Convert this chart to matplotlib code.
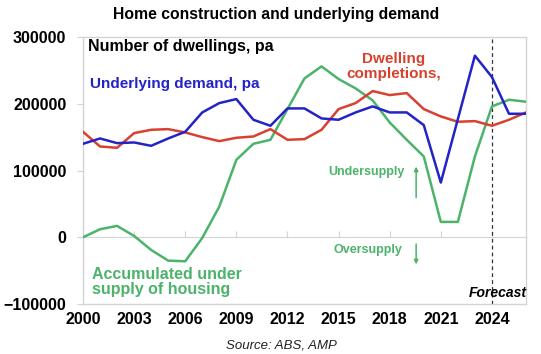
import numpy as np
import matplotlib
matplotlib.use("Agg")
import matplotlib.pyplot as plt

# ── data ──────────────────────────────────────────────────────
years = list(range(2000, 2027))

underlying_demand = [140000, 148000, 141000, 142000, 137000, 148000, 158000, 187000, 201000,
                     207000, 176000, 167000, 193000, 193000, 178000, 176000, 187000, 196000,
                     187000, 187000, 168000, 82000, 177000, 272000, 240000, 185000, 185000]

completions = [158000, 136000, 134000, 156000, 161000, 162000, 157000, 150000, 144000,
               149000, 151000, 162000, 146000, 147000, 161000, 192000, 201000, 219000,
               213000, 216000, 192000, 181000, 173000, 174000, 167000, 176000, 187000]

accum_undersupply = [0, 12000, 17000, 2000, -19000, -35000, -36000, -1000, 46000,
                     116000, 140000, 146000, 192000, 238000, 256000, 237000, 223000, 205000,
                     172000, 146000, 121000, 23000, 23000, 121000, 196000, 206000, 203000]

forecast_year = 2024
xticks = list(range(2000, 2025, 3))
yticks = [-100000, 0, 100000, 200000, 300000]

BLUE = "#2323C8"
RED = "#D8412F"
GREEN = "#4CB36A"
GRID = "#D4D4D4"

plt.rcParams["font.family"] = ["Liberation Sans", "DejaVu Sans"]

fig = plt.figure(figsize=(5.41, 3.54), dpi=100)
ax = fig.add_axes([0.1534, 0.1412, 0.8189, 0.7543])

ax.plot(years, accum_undersupply, color=GREEN, lw=1.8, zorder=3)
ax.plot(years, completions, color=RED, lw=1.8, zorder=4)
ax.plot(years, underlying_demand, color=BLUE, lw=1.8, zorder=5)

ax.axvline(forecast_year, color="#333333", lw=0.9, ls=(0, (3, 2.5)), zorder=2)

ax.set_xlim(2000, 2026)
ax.set_ylim(-100000, 300000)
ax.set_xticks(xticks)
ax.set_yticks(yticks)
ax.tick_params(axis="x", length=0, pad=6, labelsize=11.5)
ax.tick_params(axis="y", length=4, color=GRID, pad=8, labelsize=11.5)
for lab in ax.get_xticklabels() + ax.get_yticklabels():
    lab.set_fontweight("bold")
for sp in ax.spines.values():
    sp.set_color(GRID)
    sp.set_linewidth(1.0)

# zero line with small upward ticks
zero_frac = (0 - yticks[0]) / (yticks[-1] - yticks[0])
sec = ax.secondary_xaxis(zero_frac)
sec.set_xticks(xticks)
sec.tick_params(direction="in", length=4, color=GRID, labelbottom=False)
sec.spines["bottom"].set_color(GRID)

# ── text ────────────────────────────────────────────────────
fig.text(0.51, 0.960, "Home construction and underlying demand", ha="center", va="center",
         fontsize=11.3, fontweight="bold")
fig.text(0.52, 0.025, "Source: ABS, AMP", ha="center", va="center",
         fontsize=9.5, style="italic", color="#222222")

ax.text(0.011, 0.963, "Number of dwellings, pa", transform=ax.transAxes, ha="left", va="center",
        fontsize=11.5, fontweight="bold", color="black")
ax.text(0.016, 0.824, "Underlying demand, pa", transform=ax.transAxes, ha="left", va="center",
        fontsize=11, fontweight="bold", color=BLUE)
ax.text(0.702, 0.889, "Dwelling\ncompletions,", transform=ax.transAxes, ha="center", va="center",
        fontsize=11, fontweight="bold", color=RED, linespacing=1.05)
ax.text(0.727, 0.494, "Undersupply", transform=ax.transAxes, ha="right", va="center",
        fontsize=9, fontweight="bold", color=GREEN)
ax.text(0.720, 0.202, "Oversupply", transform=ax.transAxes, ha="right", va="center",
        fontsize=9, fontweight="bold", color=GREEN)
ax.annotate("", xy=(0.752, 0.525), xytext=(0.752, 0.388), xycoords="axes fraction",
            arrowprops=dict(arrowstyle="-|>", color=GREEN, lw=1.1, mutation_scale=6))
ax.annotate("", xy=(0.752, 0.138), xytext=(0.752, 0.235), xycoords="axes fraction",
            arrowprops=dict(arrowstyle="-|>", color=GREEN, lw=1.1, mutation_scale=6))
ax.text(0.020, 0.081, "Accumulated under\nsupply of housing", transform=ax.transAxes,
        ha="left", va="center", fontsize=11.5, fontweight="bold", color=GREEN, linespacing=1.0)
ax.text(1.002, 0.041, "Forecast", transform=ax.transAxes, ha="right", va="center",
        fontsize=10, fontweight="bold", style="italic", color="black")

fig.savefig("out.png", dpi=100)
